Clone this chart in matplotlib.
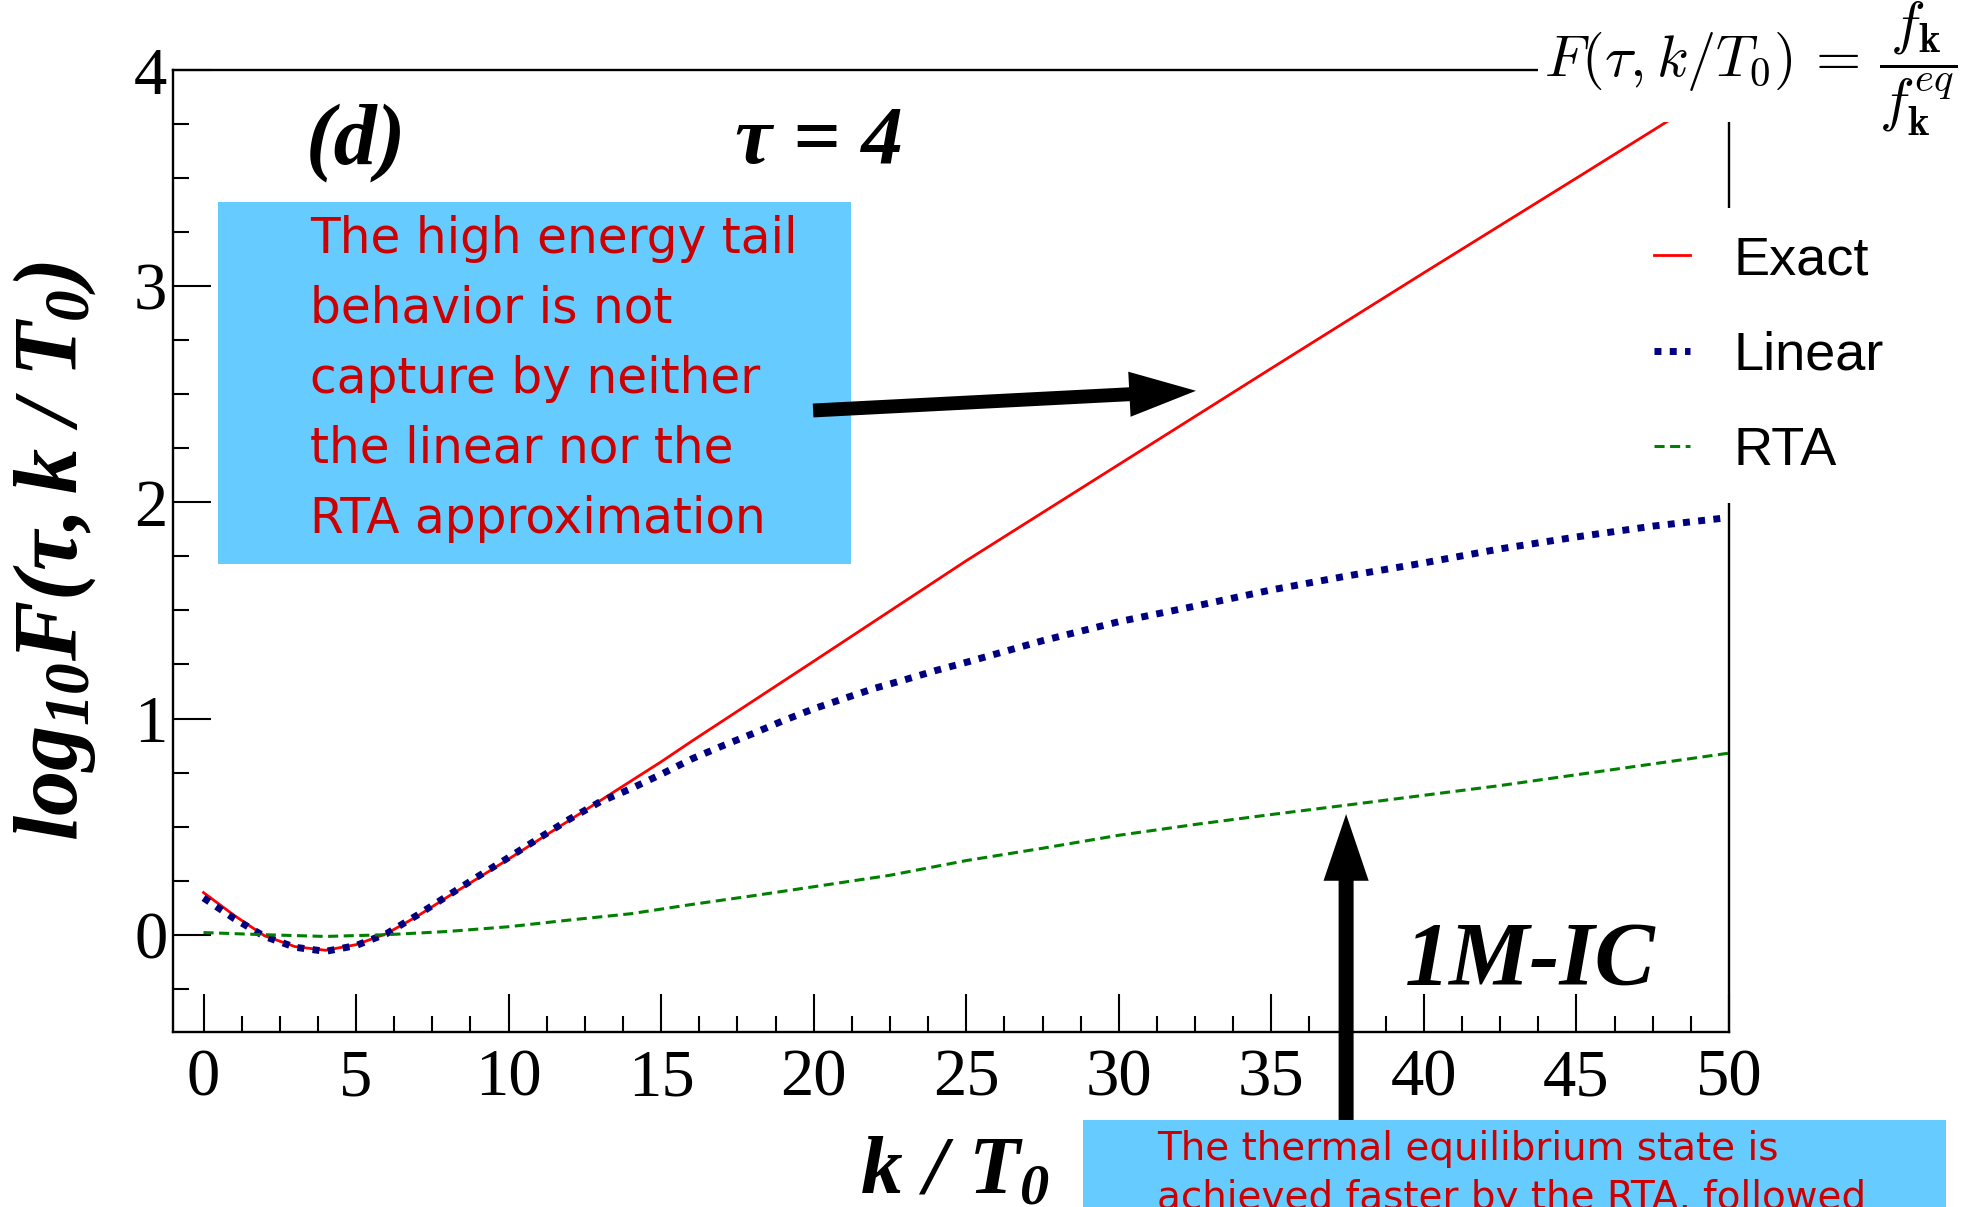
import numpy as np
import matplotlib
matplotlib.use("Agg")
import matplotlib.pyplot as plt
from matplotlib.patches import Rectangle

plt.rcParams['font.family'] = ['Liberation Serif', 'DejaVu Serif']
plt.rcParams['mathtext.fontset'] = 'custom'
plt.rcParams['mathtext.it'] = 'Liberation Serif:italic:bold'
plt.rcParams['mathtext.rm'] = 'Liberation Serif:italic:bold'
plt.rcParams['mathtext.bf'] = 'Liberation Serif:italic:bold'

W, H = 1962, 1207

# values (log10 F vs k/T0)
k_exact = [0, 1, 2, 3, 4, 5, 6, 7, 8, 9, 10, 11, 12, 13, 14, 15, 16, 18, 20, 25, 30, 35, 40, 45, 50]
exact = [0.195, 0.09, -0.005, -0.055, -0.072, -0.046, 0.005, 0.085, 0.175, 0.262, 0.35, 0.44, 0.53,
         0.62, 0.71, 0.80, 0.895, 1.08, 1.265, 1.73, 2.175, 2.62, 3.062, 3.50, 3.94]

k_linear = [0, 1, 2, 3, 4, 5, 6, 7, 8, 9, 10, 11, 12, 13, 14, 15, 16, 17, 18, 19, 20, 21, 22, 23, 24,
            25, 27.5, 30, 32.5, 35, 37.5, 40, 42.5, 45, 47.5, 50]
linear = [0.17, 0.075, -0.008, -0.058, -0.077, -0.05, 0.005, 0.09, 0.18, 0.27, 0.357, 0.447, 0.535,
          0.615, 0.675, 0.742, 0.813, 0.873, 0.93, 0.99, 1.045, 1.093, 1.14, 1.18, 1.222,
          1.26, 1.36, 1.448, 1.52, 1.595, 1.66, 1.72, 1.785, 1.84, 1.89, 1.93]

k_rta = [0, 2, 4, 6, 8, 10, 12, 14, 16, 18, 20, 22.5, 25, 27.5, 30, 32.5, 35, 37.5, 40, 42.5, 45, 47.5, 50]
rta = [0.01, 0.0, -0.008, 0.0, 0.015, 0.037, 0.068, 0.097, 0.14, 0.18, 0.222, 0.275, 0.343, 0.40,
       0.46, 0.51, 0.556, 0.60, 0.645, 0.69, 0.74, 0.79, 0.84]

box1_lines = ["The high energy tail", "behavior is not", "capture by neither",
              "the linear nor the", "RTA approximation"]
box2_lines = ["The thermal equilibrium state is", "achieved faster by the RTA, followed"]


def fx(X):
    return X / W


def fy(Y):
    return 1 - Y / H


fig = plt.figure(figsize=(W / 100, H / 100), dpi=100)
ax = fig.add_axes([fx(173), fy(1032), (1729 - 173) / W, (1032 - 70) / H])

ax.plot(k_exact, exact, color='#ff0000', lw=2.0, label='Exact')
ax.plot(k_linear, linear, color='#000080', lw=5, linestyle=(0, (1, 1.2)),
        dash_capstyle='butt', label='Linear')
ax.plot(k_rta, rta, color='#008000', lw=2.2, linestyle=(0, (3.3, 1.8)), label='RTA')

ax.set_xlim(-1, 50)
ax.set_ylim(-0.45, 4)
ax.set_xticks(np.arange(0, 51, 5))
ax.set_xticks(np.arange(0, 50.01, 1.25), minor=True)
ax.set_yticks([0, 1, 2, 3, 4])
ax.set_yticks(np.arange(-0.25, 4.01, 0.25), minor=True)
ax.tick_params(which='both', direction='in', width=1.5, top=False, right=False, labelsize=48)
ax.tick_params(which='major', length=27.5)
ax.tick_params(which='minor', length=11.5)
ax.tick_params(axis='x', pad=12)
ax.tick_params(axis='y', pad=4)
for s in ax.spines.values():
    s.set_linewidth(1.7)

leg = ax.legend(loc='upper left', bbox_to_anchor=(fx(1627), fy(208)), bbox_transform=fig.transFigure,
                prop={'family': 'Liberation Sans', 'size': 39}, handlelength=0.67, handletextpad=0.8,
                labelspacing=0.84, borderpad=0.5, borderaxespad=0, frameon=True, fancybox=False,
                facecolor='white', edgecolor='none', framealpha=1)

# first note box, inside the axes
ax.add_patch(Rectangle((fx(218), fy(564)), (851 - 218) / W, (564 - 202) / H,
                       transform=fig.transFigure, facecolor='#66ccff', edgecolor='none', zorder=1))
for i, line in enumerate(box1_lines):
    fig.text(fx(310), fy(252.6 + 70 * i), line, family='DejaVu Sans', size=35,
             color='#cc0000', va='baseline', ha='left')

ax.annotate('', xy=(32.53, 2.516), xytext=(19.98, 2.425),
            arrowprops=dict(arrowstyle='simple,head_length=4.8,head_width=3.25,tail_width=1.0',
                            mutation_scale=10, fc='black', ec='none', shrinkA=0, shrinkB=0))
ax.annotate('', xy=(37.45, 0.558), xytext=(37.45, -0.95), annotation_clip=False,
            arrowprops=dict(arrowstyle='simple,head_length=4.8,head_width=3.25,tail_width=1.08',
                            mutation_scale=10, fc='black', ec='none', shrinkA=0, shrinkB=0))

# second note box at the bottom right, cut by the figure edge
fig.add_artist(Rectangle((fx(1083), 0), (1946 - 1083) / W, fy(1120), transform=fig.transFigure,
                         facecolor='#66ccff', edgecolor='none', zorder=1))
for i, line in enumerate(box2_lines):
    fig.text(fx(1157), fy(1160 + 49 * i), line, family='DejaVu Sans', size=28,
             color='#cc0000', va='baseline', ha='left', zorder=3)

# formula in the top right corner, on white
fig.add_artist(Rectangle((fx(1538), fy(122)), (W - 1538) / W, 122 / H, transform=fig.transFigure,
                         facecolor='white', edgecolor='none', zorder=1))
fig.text(fx(1958), fy(78), r'$F(\tau, k/T_0)\,=\,\dfrac{f_{\mathbf{k}}}{f_{\mathbf{k}}^{eq}}$',
         math_fontfamily='cm', size=42, ha='right', va='baseline', zorder=3)

bi = dict(family='Liberation Serif', weight='bold', style='italic')
fig.text(fx(356), fy(163), '(d)', size=62, ha='center', va='baseline', **bi)
fig.text(fx(819), fy(163), '\u03c4 = 4', size=60, ha='center', va='baseline', **bi)
fig.text(fx(1530), fy(985), '1M-IC', size=65, ha='center', va='baseline', **bi)

fig.text(fx(955), fy(1193), r'$k\ /\ T_0$', size=60, ha='center', va='baseline')
fig.text(fx(55), fy(551), r'$log_{10}F(\tau , k\ /\ T_0)$', size=65, rotation=90,
         ha='center', va='center')

fig.savefig('out.png', dpi=100)
